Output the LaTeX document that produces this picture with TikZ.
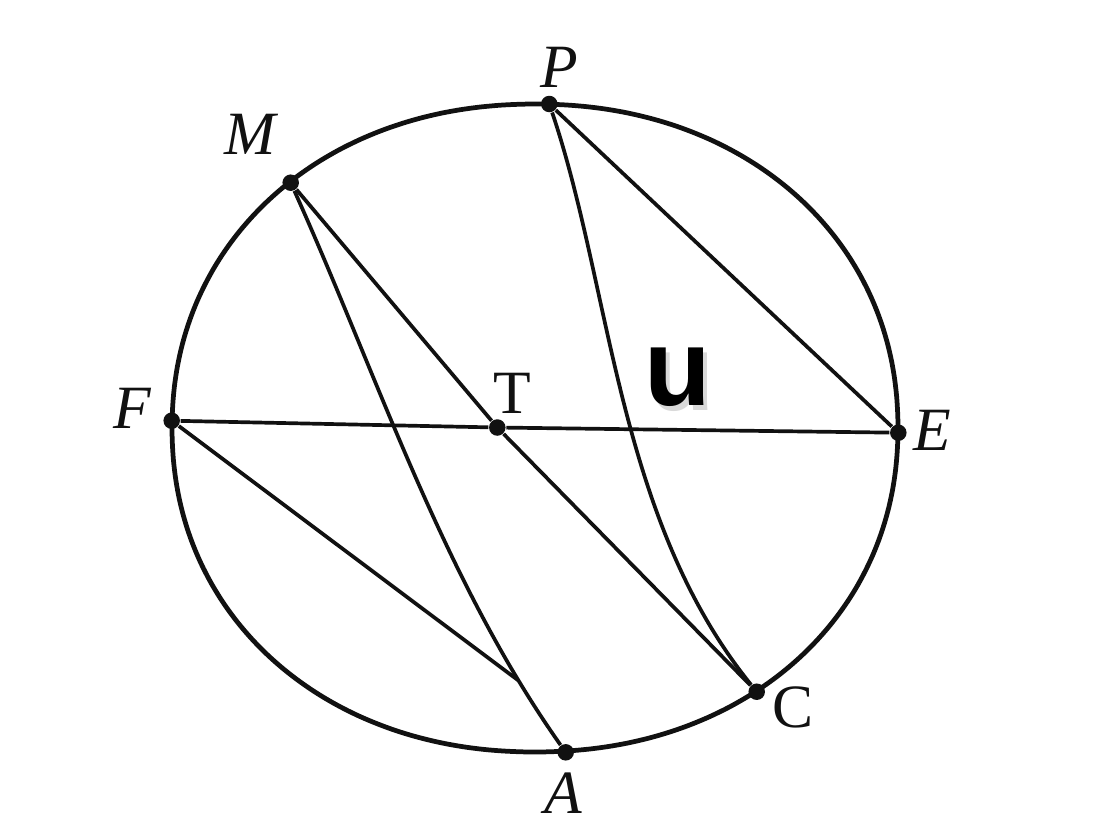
\documentclass[tikz,border=0pt]{standalone}
\usepackage{fontspec}
\setmainfont{Liberation Serif}
\newfontfamily\usans{Liberation Sans}
\usetikzlibrary{intersections}
\definecolor{ink}{HTML}{111111}
\tikzset{
  rim/.style={draw=ink, line width=1.35pt},
  chord/.style={draw=ink, line width=1.05pt},
  dot/.style={circle, fill=ink, inner sep=0pt, minimum size=0.165cm},
  lbl/.style={font=\fontsize{17.5}{20}\selectfont\itshape, text=ink, inner sep=0pt},
  lblup/.style={font=\fontsize{17.5}{20}\selectfont, text=ink, inner sep=0pt},
  bigu/.style={font=\usans\bfseries\fontsize{31}{36}\selectfont, inner sep=0pt}
}
\begin{document}
\begin{tikzpicture}[x=0.01cm, y=-0.01cm]
\useasboundingbox (0,0) rectangle (1110,833);
\fill[white] (0,0) rectangle (1110,833);
% outer curve
\draw[rim] plot[smooth cycle, domain=1:359.5, samples=240, variable=\t]
  ({535+363*cos(\t)/abs(cos(\t))^0.048}, {428+324*sin(\t)/abs(sin(\t))^0.048});
% points
\node[dot] (P) at (549.3,104) {};
\node[dot] (M) at (290.7,182.7) {};
\node[dot] (F) at (171.7,420.7) {};
\node[dot] (T) at (497.3,427.5) {};
\node[dot] (E) at (898.3,432.7) {};
\node[dot] (C) at (756.7,691.7) {};
\node[dot] (A) at (565.7,752.3) {};
\coordinate (Fdir) at (559.6,711.5);
% chords
\draw[chord] (F) -- (T) -- (E);
\draw[chord] (P) -- (E);
\draw[chord] (M) -- (T) -- (C);
\draw[chord] (P) .. controls (612,290) and (617,519) .. (C);
\draw[chord, name path=MA] (M) .. controls (377,374) and (442,577) .. (A);
\path[name path=FL] (F.center) -- (Fdir);
\path[name intersections={of=MA and FL, by=J}];
\draw[chord] (F) -- (J);
% labels
\node[lbl] (Pl) at (559,67) {P};
\node[lbl] (Ml) at (250,134) {M};
\node[lbl] (Fl) at (132,408) {F};
\node[lblup] (Tl) at (512,393) {T};
\node[lbl] (El) at (932,430) {E};
\node[lblup] (Cl) at (793,707) {C};
\node[lbl] (Al) at (563,793) {A};
% big u with soft shadow
\node[bigu, text=black, opacity=0.15] at (682,382) {u};
\node[bigu, text=black] (U) at (678,377) {u};
\end{tikzpicture}
\end{document}
